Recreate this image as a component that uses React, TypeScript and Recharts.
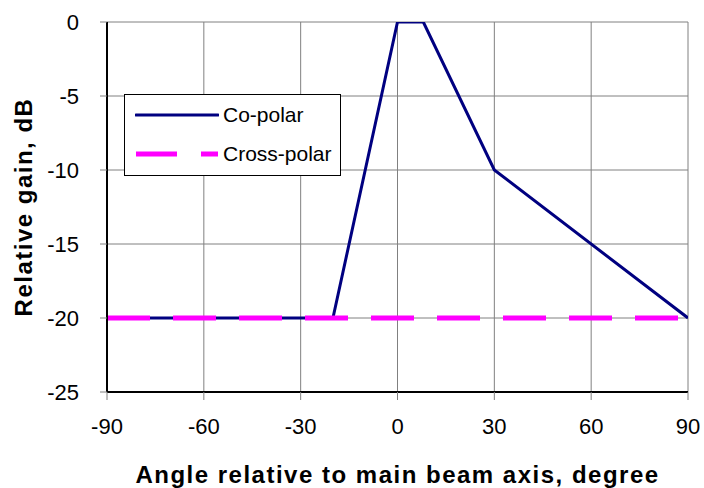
import React from 'react';
import { LineChart, Line, XAxis, YAxis, CartesianGrid, Legend, Label } from 'recharts';

// Co-polar pattern corners (angle, gain)
const coPolarAngles = [-90, -20, 0, 8, 30, 90];
const coPolarGain = [-20, -20, 0, 0, -10, -20];

// Cross-polar level
const crossPolarAngles = [-90, 90];
const crossPolarGain = [-20, -20];

const xTicks = [-90, -60, -30, 0, 30, 60, 90];
const yTicks = [0, -5, -10, -15, -20, -25];

const coPolarData = coPolarAngles.map((angle, i) => ({ angle, gain: coPolarGain[i] }));
const crossPolarData = crossPolarAngles.map((angle, i) => ({ angle, gain: crossPolarGain[i] }));

const FONT = '"Liberation Sans", Arial, sans-serif';
const CO_COLOR = '#000080';
const CROSS_COLOR = '#FF00FF';
const CROSS_DASH = '43 23';

const XTitle = (props: any) => {
  const vb = props.viewBox || { x: 107, y: 392, width: 581, height: 96 };
  return (
    <text
      x={vb.x + vb.width / 2}
      y={vb.y + vb.height - 5}
      textAnchor="middle"
      fontFamily={FONT}
      fontSize={24}
      fontWeight="bold"
      letterSpacing={1.5}
      fill="#000"
    >
      Angle relative to main beam axis, degree
    </text>
  );
};

const YTitle = (props: any) => {
  const vb = props.viewBox || { x: 0, y: 22, width: 107, height: 370 };
  const cx = vb.x + 32;
  const cy = vb.y + vb.height / 2;
  return (
    <text
      x={cx}
      y={cy}
      transform={`rotate(-90 ${cx} ${cy})`}
      textAnchor="middle"
      fontFamily={FONT}
      fontSize={24}
      fontWeight="bold"
      letterSpacing={1.5}
      fill="#000"
    >
      Relative gain, dB
    </text>
  );
};

const LegendBox = () => (
  <div
    style={{
      width: 217,
      height: 82,
      boxSizing: 'border-box',
      border: '1px solid #000',
      background: '#fff',
      fontFamily: FONT,
      fontSize: 21,
      color: '#000',
      position: 'relative',
    }}
  >
    <div style={{ position: 'absolute', left: 10, top: 8, display: 'flex', alignItems: 'center', height: 24 }}>
      <svg width={84} height={10}>
        <line x1={1} y1={5} x2={83} y2={5} stroke={CO_COLOR} strokeWidth={3} strokeLinecap="round" />
      </svg>
      <span style={{ marginLeft: 4, lineHeight: '24px' }}>Co-polar</span>
    </div>
    <div style={{ position: 'absolute', left: 10, top: 47, display: 'flex', alignItems: 'center', height: 24 }}>
      <svg width={84} height={10}>
        <line x1={1} y1={5} x2={83} y2={5} stroke={CROSS_COLOR} strokeWidth={5} strokeDasharray="41 24" />
      </svg>
      <span style={{ marginLeft: 4, lineHeight: '24px' }}>Cross-polar</span>
    </div>
  </div>
);

export default function App() {
  return (
    <div style={{ position: 'absolute', left: 0, top: 0, width: 704, height: 488, background: '#fff' }}>
      <LineChart width={704} height={488} margin={{ top: 22, right: 16, left: 0, bottom: 0 }}>
        <CartesianGrid stroke="#808080" strokeWidth={1} />
        <XAxis
          type="number"
          dataKey="angle"
          domain={[-90, 90]}
          ticks={xTicks}
          height={96}
          allowDataOverflow
          axisLine={{ stroke: '#000', strokeWidth: 2 }}
          tickLine={{ stroke: '#808080' }}
          tickSize={8}
          tickMargin={18}
          tick={{ fill: '#000', fontSize: 22, fontFamily: FONT }}
        >
          <Label content={XTitle} />
        </XAxis>
        <YAxis
          type="number"
          domain={[-25, 0]}
          ticks={yTicks}
          width={107}
          allowDataOverflow
          axisLine={{ stroke: '#000', strokeWidth: 2 }}
          tickLine={{ stroke: '#808080' }}
          tickSize={7}
          tickMargin={21}
          tick={{ fill: '#000', fontSize: 22, fontFamily: FONT }}
        >
          <Label content={YTitle} />
        </YAxis>
        <Legend
          layout="vertical"
          align="center"
          verticalAlign="middle"
          content={LegendBox}
          wrapperStyle={{ left: 124, top: 94, width: 217, height: 82 }}
        />
        <Line
          data={coPolarData}
          dataKey="gain"
          name="Co-polar"
          type="linear"
          stroke={CO_COLOR}
          strokeWidth={3}
          dot={false}
          activeDot={false}
          isAnimationActive={false}
        />
        <Line
          data={crossPolarData}
          dataKey="gain"
          name="Cross-polar"
          type="linear"
          stroke={CROSS_COLOR}
          strokeWidth={5}
          strokeDasharray={CROSS_DASH}
          dot={false}
          activeDot={false}
          isAnimationActive={false}
        />
      </LineChart>
    </div>
  );
}
